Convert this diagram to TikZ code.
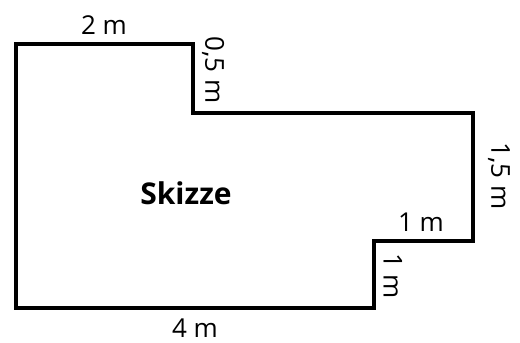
\documentclass[tikz,border=0pt]{standalone}
\usepackage{fontspec}
\setmainfont{Open Sans}
\tikzset{lbl/.style={inner sep=0pt,font=\fontsize{26}{28}\selectfont},wall/.style={line width=3.8pt,line join=miter,line cap=rect}}
\begin{document}
\begin{tikzpicture}[x=1pt,y=-1pt]
\useasboundingbox (0,0) rectangle (520,343);
\draw[wall] (16,44) -- (193,44) -- (193,113) -- (473,113) -- (473,241) -- (374,241) -- (374,308) -- (16,308) -- cycle;
\node[lbl] (a) at (104,25) {2 m};
\node[lbl,rotate=-90] (b) at (213,70) {0,5 m};
\node[lbl,rotate=-90] (c) at (499,176) {1,5 m};
\node[lbl] (d) at (421,222) {1 m};
\node[lbl,rotate=-90] (e) at (393,276) {1 m};
\node[lbl] (f) at (195,328) {4 m};
\node[inner sep=0pt,font=\fontsize{30}{32}\selectfont\bfseries] (g) at (186,193) {Skizze};
\end{tikzpicture}
\end{document}
